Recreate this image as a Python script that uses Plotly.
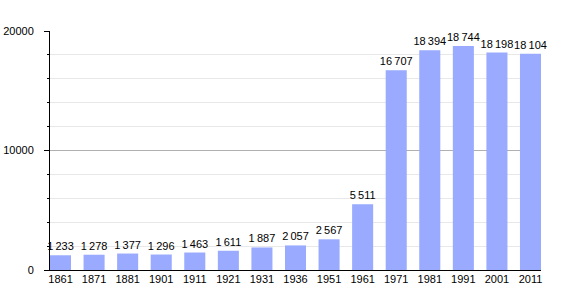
import plotly.graph_objects as go

years = ["1861", "1871", "1881", "1901", "1911", "1921", "1931", "1936",
         "1951", "1961", "1971", "1981", "1991", "2001", "2011"]
population = [1233, 1278, 1377, 1296, 1463, 1611, 1887, 2057,
              2567, 5511, 16707, 18394, 18744, 18198, 18104]
y_ticks = [0, 10000, 20000]

labels = [f"{v:,}".replace(",", "\u2009") for v in population]
xpos = list(range(len(years)))

fig = go.Figure(go.Bar(
    x=xpos, y=population, width=0.627,
    marker=dict(color="#99aaff", line=dict(width=0)),
    text=labels, textposition="outside", cliponaxis=False,
    constraintext="none",
    textfont=dict(family="Liberation Sans, Arial, sans-serif", size=11, color="#000"),
))

fig.update_layout(
    width=570, height=300,
    margin=dict(l=50, r=29, t=31, b=30, pad=0),
    paper_bgcolor="white", plot_bgcolor="white",
    showlegend=False,
    font=dict(family="Liberation Sans, Arial, sans-serif", size=11, color="#000"),
    xaxis=dict(
        range=[-0.313, 14.313], tickmode="array", tickvals=xpos, ticktext=years,
        showgrid=False, showline=True, linecolor="#000", linewidth=1,
        ticks="", tickfont=dict(size=11), ticklen=0, ticklabelstandoff=-1,
        automargin=False,
    ),
    yaxis=dict(
        range=[0, 20000], tickmode="array", tickvals=y_ticks,
        tickformat="d", showline=True, linecolor="#000", linewidth=1,
        ticks="outside", ticklen=5, tickcolor="#000", tickwidth=1,
        gridcolor="#b0b0b0", gridwidth=1, zeroline=False,
        minor=dict(dtick=2000, tick0=0, showgrid=True, gridcolor="#e8e8e8",
                   ticks="outside", ticklen=2, tickcolor="#000"),
        tickfont=dict(size=11), ticklabelstandoff=8,
        automargin=False,
    ),
)

fig.write_html("out.html")
